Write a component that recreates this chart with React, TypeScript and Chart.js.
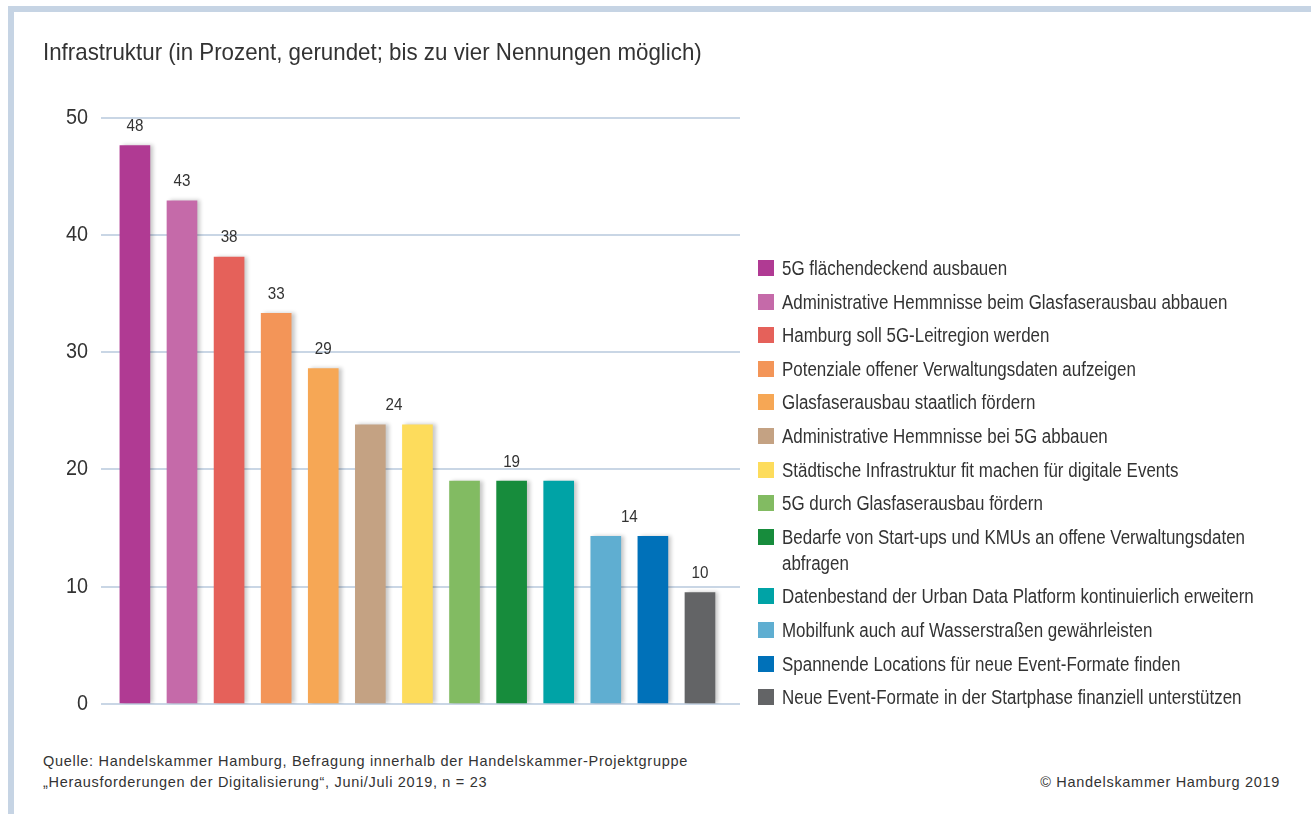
import React, { useEffect, useRef } from 'react';
import { Chart, registerables } from 'chart.js';

Chart.register(...registerables);

const titleText = 'Infrastruktur (in Prozent, gerundet; bis zu vier Nennungen möglich)';
const sourceLines = [
  'Quelle: Handelskammer Hamburg, Befragung innerhalb der Handelskammer-Projektgruppe',
  '„Herausforderungen der Digitalisierung“, Juni/Juli 2019, n = 23',
];
const copyrightText = '© Handelskammer Hamburg 2019';

const categories = [
  '5G flächendeckend ausbauen',
  'Administrative Hemmnisse beim Glasfaserausbau abbauen',
  'Hamburg soll 5G-Leitregion werden',
  'Potenziale offener Verwaltungsdaten aufzeigen',
  'Glasfaserausbau staatlich fördern',
  'Administrative Hemmnisse bei 5G abbauen',
  'Städtische Infrastruktur fit machen für digitale Events',
  '5G durch Glasfaserausbau fördern',
  'Bedarfe von Start-ups und KMUs an offene Verwaltungsdaten abfragen',
  'Datenbestand der Urban Data Platform kontinuierlich erweitern',
  'Mobilfunk auch auf Wasserstraßen gewährleisten',
  'Spannende Locations für neue Event-Formate finden',
  'Neue Event-Formate in der Startphase finanziell unterstützen',
];

const values = [47.6, 42.9, 38.1, 33.3, 28.6, 23.8, 23.8, 19.0, 19.0, 19.0, 14.3, 14.3, 9.5];

const colors = [
  '#b03a93',
  '#c56aa9',
  '#e5615a',
  '#f39558',
  '#f6a755',
  '#c4a283',
  '#fddc5c',
  '#82bb62',
  '#178c3c',
  '#00a3a6',
  '#5faed1',
  '#0071b9',
  '#636466',
];

const yMin = 0;
const yMax = 50;
const yStep = 10;

// Rounded value labels, their slot (category index, may sit between two bars) and the bar level they sit on
const valueLabels = ['48', '43', '38', '33', '29', '24', '19', '14', '10'];
const valueLabelSlots = [0, 1, 2, 3, 4, 5.5, 8, 10.5, 12];
const valueLabelLevels = [47.6, 42.9, 38.1, 33.3, 28.6, 23.8, 19.0, 14.3, 9.5];

const FONT = "'Liberation Sans', Arial, Helvetica, sans-serif";
const TEXT = '#333333';
const FRAME = '#c6d4e4';
const GRID = '#c9d6e5';

const shadowPlugin = {
  id: 'barShadow',
  beforeDatasetsDraw(chart: any) {
    const ctx = chart.ctx;
    ctx.save();
    ctx.shadowColor = 'rgba(0,0,0,0.22)';
    ctx.shadowOffsetX = 3;
    ctx.shadowOffsetY = 0;
    ctx.shadowBlur = 4;
  },
  afterDatasetsDraw(chart: any) {
    chart.ctx.restore();
  },
};

const valueLabelPlugin = {
  id: 'valueLabels',
  afterDatasetsDraw(chart: any) {
    const ctx = chart.ctx;
    const xs = chart.scales.x;
    const ys = chart.scales.y;
    ctx.save();
    ctx.shadowColor = 'transparent';
    ctx.fillStyle = TEXT;
    ctx.font = `16px ${FONT}`;
    ctx.textAlign = 'center';
    ctx.textBaseline = 'middle';
    valueLabels.forEach((t, i) => {
      const x = xs.getPixelForValue(valueLabelSlots[i]);
      const y = ys.getPixelForValue(valueLabelLevels[i]) - 19;
      ctx.save();
      ctx.translate(x, y);
      ctx.scale(0.95, 1);
      ctx.fillText(t, 0, 0);
      ctx.restore();
    });
    ctx.restore();
  },
};

// y tick labels drawn from the scale's own ticks, slightly condensed
const yTickPlugin = {
  id: 'yTickLabels',
  afterDraw(chart: any) {
    const ctx = chart.ctx;
    const ys = chart.scales.y;
    const right = chart.chartArea.left - 13;
    ctx.save();
    ctx.fillStyle = TEXT;
    ctx.font = `22px ${FONT}`;
    ctx.textAlign = 'right';
    ctx.textBaseline = 'middle';
    ys.ticks.forEach((t: any) => {
      const y = ys.getPixelForValue(t.value);
      ctx.save();
      ctx.translate(right, y);
      ctx.scale(0.9, 1);
      ctx.fillText(String(t.value), 0, 0);
      ctx.restore();
    });
    ctx.restore();
  },
};

function BarChart() {
  const ref = useRef<HTMLCanvasElement | null>(null);
  useEffect(() => {
    if (!ref.current) return;
    const chart = new Chart(ref.current, {
      type: 'bar',
      data: {
        datasets: [
          {
            data: values.map((v, i) => ({ x: i, y: v })),
            backgroundColor: colors,
            borderWidth: 0,
            barThickness: 30,
          } as any,
        ],
      },
      options: {
        responsive: false,
        animation: false,
        layout: { padding: { left: 41, right: 30, top: 117.5, bottom: 36 } },
        plugins: {
          legend: { display: false },
          tooltip: { enabled: false },
        },
        scales: {
          x: { type: 'linear', min: -0.72, max: 12.85, offset: false, display: false },
          y: {
            min: yMin,
            max: yMax,
            ticks: { stepSize: yStep, display: false },
            grid: { color: GRID, lineWidth: 2, drawTicks: false },
            border: { display: false },
            afterFit: (s: any) => {
              s.width = 60;
            },
          },
        },
      } as any,
      plugins: [shadowPlugin, valueLabelPlugin, yTickPlugin],
    });
    return () => chart.destroy();
  }, []);
  return (
    <canvas
      ref={ref}
      width={770}
      height={740}
      style={{ position: 'absolute', left: 0, top: 0, width: 770, height: 740 }}
    />
  );
}

export default function App() {
  return (
    <div
      style={{
        position: 'absolute',
        left: 0,
        top: 0,
        width: 1311,
        height: 814,
        background: '#ffffff',
        overflow: 'hidden',
        color: TEXT,
        fontFamily: FONT,
      }}
    >
      <div style={{ position: 'absolute', left: 8, top: 6, width: 1303, height: 6, background: FRAME }} />
      <div style={{ position: 'absolute', left: 8, top: 6, width: 6, height: 808, background: FRAME }} />
      <BarChart />
      <div
        style={{
          position: 'absolute',
          left: 43,
          top: 39.5,
          fontSize: 24,
          lineHeight: '24px',
          whiteSpace: 'nowrap',
          transform: 'scaleX(0.93)',
          transformOrigin: 'left top',
        }}
      >
        {titleText}
      </div>
      <div
        style={{
          position: 'absolute',
          left: 758,
          top: 255,
          width: 540,
          fontSize: 20,
          lineHeight: '26px',
        }}
      >
        {categories.map((c, i) => (
          <div key={i} style={{ display: 'flex', alignItems: 'flex-start', marginBottom: 7.6 }}>
            <span
              style={{
                flex: '0 0 16px',
                width: 16,
                height: 16,
                marginTop: 5,
                marginRight: 8,
                background: colors[i],
              }}
            />
            <span
              style={{
                display: 'inline-block',
                flex: '0 0 595px',
                width: 595,
                transform: 'scaleX(0.847)',
                transformOrigin: 'left top',
              }}
            >
              {c}
            </span>
          </div>
        ))}
      </div>
      <div
        style={{
          position: 'absolute',
          left: 43,
          top: 750.5,
          fontSize: 14.5,
          letterSpacing: 0.7,
          lineHeight: '21px',
          whiteSpace: 'nowrap',
        }}
      >
        {sourceLines.map((l, i) => (
          <div key={i}>{l}</div>
        ))}
      </div>
      <div
        style={{
          position: 'absolute',
          right: 31,
          top: 771.5,
          fontSize: 14.5,
          letterSpacing: 0.7,
          lineHeight: '21px',
          whiteSpace: 'nowrap',
        }}
      >
        {copyrightText}
      </div>
    </div>
  );
}
